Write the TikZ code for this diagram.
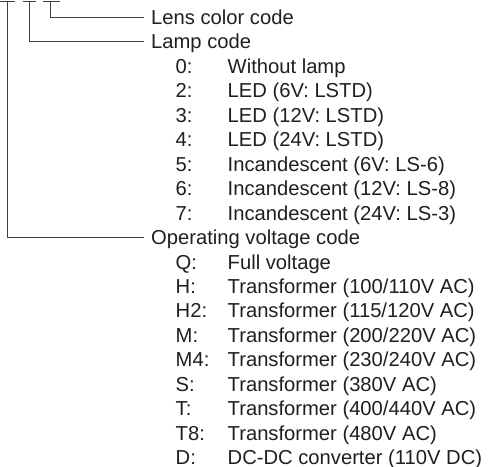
\documentclass[tikz,border=0pt]{standalone}
\usepackage{fontspec}
\setmainfont{Liberation Sans}
\begin{document}
\begin{tikzpicture}[x=1pt,y=-1pt,
  txt/.style={anchor=west,inner sep=0pt,text height=14.4pt,text depth=0pt,text=black!88,font=\fontsize{20.2}{24}\selectfont},
  conn/.style={draw=black!75,line width=1.3pt},
]
\useasboundingbox (0,0) rectangle (497,466);
\def\rowy#1{17.3+24.45*#1}
% main labels
\node[txt] (lens) at (151,{\rowy{0}}) {Lens color code};
\node[txt] (lamp) at (151,{\rowy{1}}) {Lamp code};
\node[txt] (oper) at (151,{\rowy{9}}) {Operating voltage code};
% lamp items
\foreach \c/\d [count=\i from 2] in {0:/Without lamp,2:/LED (6V: LSTD),3:/LED (12V: LSTD),4:/LED (24V: LSTD),5:/Incandescent (6V: LS-6),6:/Incandescent (12V: LS-8),7:/Incandescent (24V: LS-3)}{
  \node[txt] (lc\i) at (175.5,{\rowy{\i}}) {\c};
  \node[txt] (ld\i) at (227.5,{\rowy{\i}}) {\d};
}
\foreach \c/\d [count=\i from 10] in {Q:/Full voltage,H:/Transformer (100\slash 110V AC),H2:/Transformer (115\slash 120V AC),M:/Transformer (200\slash 220V AC),M4:/Transformer (230\slash 240V AC),S:/Transformer (380V AC),T:/Transformer (400\slash 440V AC),T8:/Transformer (480V AC),D:/DC-DC converter (110V DC)}{
  \node[txt] (oc\i) at (175.5,{\rowy{\i}}) {\c};
  \node[txt] (od\i) at (227.5,{\rowy{\i}}) {\d};
}
% top bars
\coordinate (t1) at (7.7,1.5);
\coordinate (t2) at (29.3,1.5);
\coordinate (t3) at (50.7,1.5);
\draw[conn] (0,1.5) -- (15,1.5);
\draw[conn] (22.7,1.5) -- (35.7,1.5);
\draw[conn] (42.7,1.5) -- (60,1.5);
% connectors
\draw[conn] (t3) |- ([xshift=-7pt]lens.west);
\draw[conn] (t2) |- ([xshift=-7pt]lamp.west);
\draw[conn] (t1) |- ([xshift=-7pt]oper.west);
\end{tikzpicture}
\end{document}
